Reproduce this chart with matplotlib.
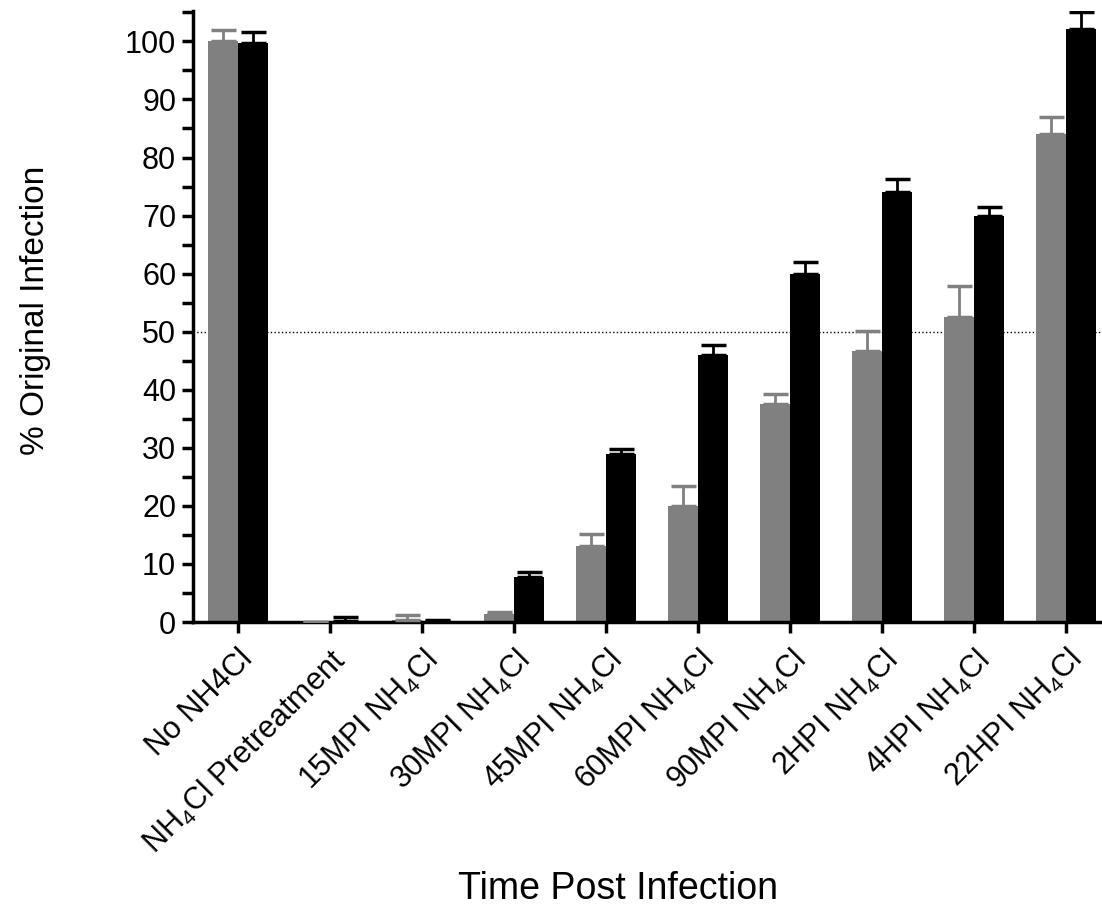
import numpy as np
import matplotlib
matplotlib.use("Agg")
import matplotlib.pyplot as plt
from matplotlib.ticker import MultipleLocator

plt.rcParams['font.family'] = ['Liberation Sans', 'DejaVu Sans']
plt.rcParams['mathtext.default'] = 'regular'

categories = ['No NH4Cl', 'NH$_4$Cl Pretreatment', '15MPI NH$_4$Cl', '30MPI NH$_4$Cl',
              '45MPI NH$_4$Cl', '60MPI NH$_4$Cl', '90MPI NH$_4$Cl', '2HPI NH$_4$Cl',
              '4HPI NH$_4$Cl', '22HPI NH$_4$Cl']
gray_vals = [100, 0, 0.3, 1.4, 13.1, 20.0, 37.5, 46.7, 52.5, 84.1]
gray_err = [2.0, 0, 0.9, 0.3, 2.1, 3.4, 1.7, 3.4, 5.4, 2.9]
black_vals = [99.8, 0.1, 0.1, 7.8, 29.0, 46.0, 60.0, 74.0, 69.9, 102.2]
black_err = [1.8, 0.7, 0.3, 0.8, 0.8, 1.7, 2.0, 2.3, 1.5, 2.9]

fig = plt.figure(figsize=(11.02, 9.09), dpi=100)
ax = fig.add_axes([0.175, 0.3157, 0.825, 0.672])

x = np.arange(len(categories))
w = 0.33
ax.bar(x - w/2, gray_vals, w, color='#808080', zorder=2)
ax.bar(x + w/2, black_vals, w, color='black', zorder=2)
ax.errorbar(x - w/2, gray_vals, yerr=[np.zeros(len(x)), gray_err], fmt='none',
            ecolor='#808080', elinewidth=2, capsize=9, capthick=2.5, zorder=3)
ax.errorbar(x + w/2, black_vals, yerr=[np.zeros(len(x)), black_err], fmt='none',
            ecolor='black', elinewidth=2, capsize=9, capthick=2.5, zorder=3)

ax.axhline(50, color='black', linestyle=':', linewidth=1, zorder=1)

ax.set_xlim(-0.49, 9.39)
ax.set_ylim(0, 105.2)
ax.yaxis.set_major_locator(MultipleLocator(10))
ax.yaxis.set_minor_locator(MultipleLocator(5))
ax.set_xticks(x)
ax.set_xticklabels(categories, rotation=45, ha='right', rotation_mode='anchor',
                   fontsize=22)
ax.tick_params(axis='x', length=8, width=2.5, pad=8)
ax.tick_params(axis='y', which='both', length=8, width=2.5, labelsize=22, pad=4)

for s in ['top', 'right']:
    ax.spines[s].set_visible(False)
for s in ['left', 'bottom']:
    ax.spines[s].set_linewidth(2.5)

fig.text(0.032, 0.659, '% Original Infection', fontsize=24, rotation=90,
         ha='center', va='center')
fig.text(0.561, 0.022, 'Time Post Infection', fontsize=27, ha='center', va='center')

fig.savefig('out.png', dpi=100)
